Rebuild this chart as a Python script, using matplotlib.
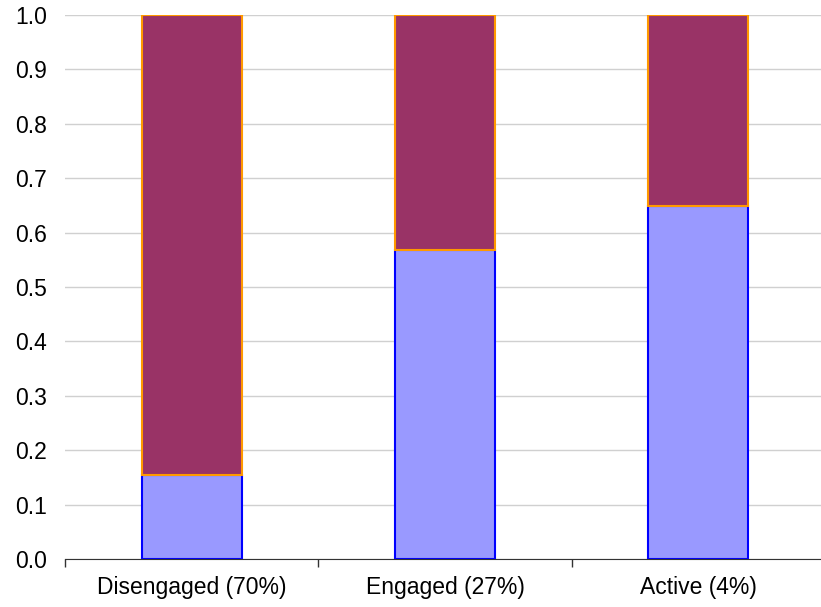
import matplotlib.pyplot as plt
import numpy as np

plt.rcParams['font.family'] = ['Liberation Sans', 'DejaVu Sans']

categories = ['Disengaged (70%)', 'Engaged (27%)', 'Active (4%)']
lower = [0.155, 0.568, 0.648]
upper = [0.845, 0.432, 0.352]

fig = plt.figure(figsize=(8.21, 6.07), dpi=100)
ax = fig.add_axes([65/821, 48/607, 760/821, 544/607])

x = np.arange(len(categories)) + 0.5
w = 0.395
ax.bar(x, lower, w, color='#9999FF', edgecolor='#0000FF', linewidth=1.5, zorder=3)
ax.bar(x, upper, w, bottom=lower, color='#993366', edgecolor='#FF9900',
       linewidth=1.5, zorder=3)

ax.set_xlim(0, 3)
ax.set_ylim(0, 1.0)
ax.set_yticks(np.arange(0, 1.01, 0.1))
ax.set_yticklabels(['%.1f' % v for v in np.arange(0, 1.01, 0.1)])
ax.set_xticks(x)
ax.set_xticklabels(categories)
ax.set_xticks([0, 1, 2, 3], minor=True)
ax.tick_params(axis='x', which='major', length=0, pad=12, labelsize=16.5)
ax.tick_params(axis='x', which='minor', length=6, width=1, color='#333333')
ax.tick_params(axis='y', length=0, pad=13, labelsize=16.5)

ax.grid(axis='y', color='#d0d0d0', linewidth=1, zorder=0)
for s in ['left', 'right', 'top']:
    ax.spines[s].set_visible(False)
ax.spines['bottom'].set_color('#333333')
ax.spines['bottom'].set_zorder(4)

fig.savefig('out.png', dpi=100)
